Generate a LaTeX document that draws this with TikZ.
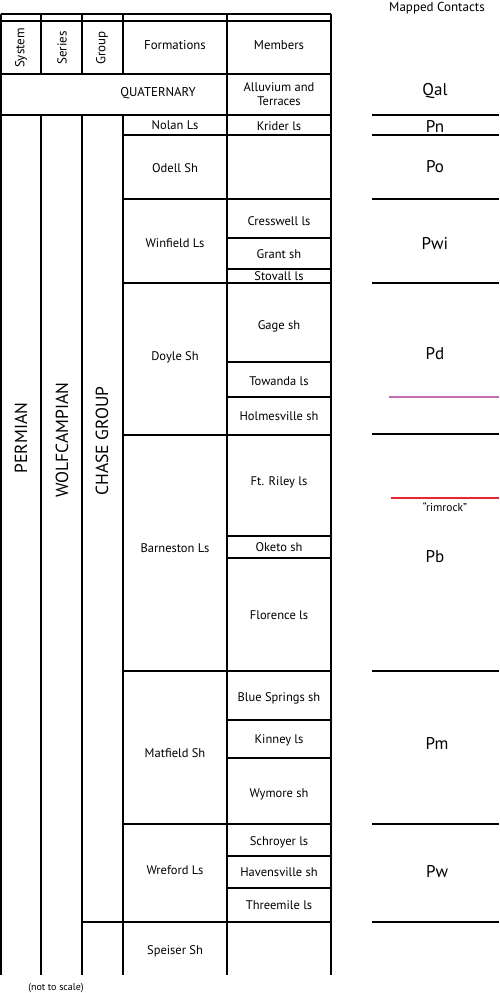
\documentclass[tikz,border=0pt]{standalone}
\usepackage{fontspec}
\setmainfont{PT Sans}
\begin{document}
\begin{tikzpicture}[x=1pt,y=-1pt,
  grid/.style={line width=1.2pt,black},
  contact/.style={line width=1.3pt,black},
  lbl/.style={font=\fontsize{12.5}{14.5}\selectfont,inner sep=0pt,align=center},
  hdr/.style={font=\fontsize{12.8}{15}\selectfont,inner sep=0pt},
  rot/.style={font=\fontsize{13}{15}\selectfont,inner sep=0pt,rotate=90},
  big/.style={font=\fontsize{17.5}{20}\selectfont,inner sep=0pt,rotate=90},
  unit/.style={font=\fontsize{17}{19}\selectfont,inner sep=0pt}]
\useasboundingbox (0,0) rectangle (500,993);
\fill[white] (0,0) rectangle (500,993);
% grid: horizontal
\draw[grid] (1,14) -- (331,14);
\draw[grid] (1,21) -- (331,21);
\draw[grid] (1,74) -- (331,74);
\draw[grid] (1,115) -- (331,115);
\foreach \yy in {135,199,283,435,671,824} \draw[grid] (123,\yy) -- (331,\yy);
\draw[grid] (82,922) -- (331,922);
\foreach \yy in {238,269,362,397,536,558,720,758,856,888} \draw[grid] (227,\yy) -- (331,\yy);
% grid: vertical
\draw[grid] (1,14) -- (1,975);
\draw[grid] (227,14) -- (227,975);
\draw[grid] (331,14) -- (331,975);
\foreach \xx in {41,82,123} {
  \draw[grid] (\xx,14) -- (\xx,74);
  \draw[grid] (\xx,115) -- (\xx,975);
}
% headers
\node[rot] (hsys) at (21,48) {System};
\node[rot] (hser) at (62,48) {Series};
\node[rot] (hgrp) at (102,48) {Group};
\node[hdr] (hform) at (175,45) {Formations};
\node[hdr] (hmem) at (279,45) {Members};
\node[hdr] (quat) at (158,93) {QUATERNARY};
\node[lbl] (alluv) at (279,94) {Alluvium and\\Terraces};
% big rotated
\node[big] (perm) at (21,438) {PERMIAN};
\node[big] (wolf) at (62,440) {WOLFCAMPIAN};
\node[big] (chase) at (102,441) {CHASE GROUP};
% formations
\node[lbl] (nolan) at (175,125) {Nolan Ls};
\node[lbl] (odell) at (175,168) {Odell Sh};
\node[lbl] (winf) at (175,243) {Winfield Ls};
\node[lbl] (doyle) at (175,357) {Doyle Sh};
\node[lbl] (barn) at (175,548) {Barneston Ls};
\node[lbl] (matf) at (175,753) {Matfield Sh};
\node[lbl] (wref) at (175,870) {Wreford Ls};
\node[lbl] (speis) at (175,951) {Speiser Sh};
% members
\node[lbl] (krid) at (279,126) {Krider ls};
\node[lbl] (cress) at (279,221) {Cresswell ls};
\node[lbl] (grant) at (279,254) {Grant sh};
\node[lbl] (stov) at (279,276) {Stovall ls};
\node[lbl] (gage) at (279,326) {Gage sh};
\node[lbl] (towa) at (279,381) {Towanda ls};
\node[lbl] (holm) at (279,416) {Holmesville sh};
\node[lbl] (ftril) at (279,482) {Ft. Riley ls};
\node[lbl] (oketo) at (279,547) {Oketo sh};
\node[lbl] (flor) at (279,615) {Florence ls};
\node[lbl] (blue) at (279,698) {Blue Springs sh};
\node[lbl] (kinn) at (279,740) {Kinney ls};
\node[lbl] (wymo) at (279,794) {Wymore sh};
\node[lbl] (schr) at (279,842) {Schroyer ls};
\node[lbl] (have) at (279,872) {Havensville sh};
\node[lbl] (three) at (279,905) {Threemile ls};
\node[font=\fontsize{10}{12}\selectfont,inner sep=0pt] (nts) at (56,988) {(not to scale)};
% mapped contacts
\node[font=\fontsize{13}{15}\selectfont,inner sep=0pt] (mc) at (437,8) {Mapped Contacts};
\foreach \yy in {115,135,199,283,434,671,824,922} \draw[contact] (372,\yy) -- (499,\yy);
\draw[line width=2pt,color={rgb,255:red,196;green,108;blue,178}] (389,397) -- (499,397);
\draw[line width=2pt,color={rgb,255:red,232;green,40;blue,42}] (391,498) -- (499,498);
\node[font=\fontsize{11.5}{13}\selectfont,inner sep=0pt] (rim) at (445,507) {“rimrock”};
\node[unit] (qal) at (435,91) {Qal};
\node[unit] (pn) at (435,126) {Pn};
\node[unit] (po) at (435,167) {Po};
\node[unit] (pwi) at (435,244) {Pwi};
\node[unit] (pd) at (435,354) {Pd};
\node[unit] (pb) at (435,557) {Pb};
\node[unit] (pm) at (437,743) {Pm};
\node[unit] (pw) at (437,872) {Pw};
\end{tikzpicture}
\end{document}
